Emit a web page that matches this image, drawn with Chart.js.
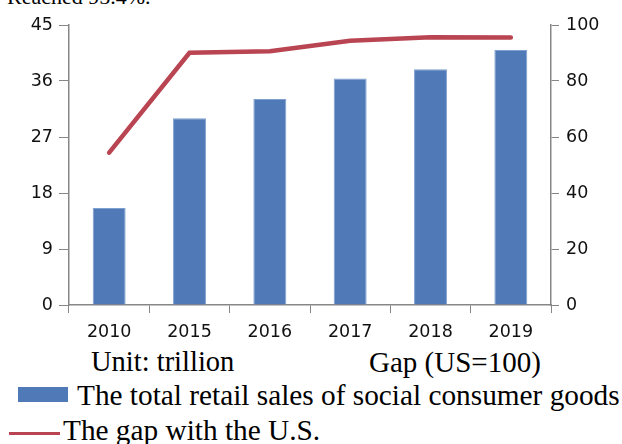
<!DOCTYPE html>
<html>
<head>
<meta charset="utf-8">
<script src="https://cdn.jsdelivr.net/npm/chart.js@4/dist/chart.umd.min.js"></script>
<style>
  html, body { margin: 0; padding: 0; background: #fff; }
  body { width: 622px; height: 444px; position: relative; overflow: hidden; font-family: "Liberation Serif", "Times New Roman", serif; color: #000; }
  #wrap { position: absolute; left: 0; top: 0; width: 622px; height: 345px; }
  .txt { position: absolute; white-space: nowrap; line-height: 1; font-size: 29.3px; }
  .box { position: absolute; }
</style>
</head>
<body>
<div class="txt" id="topnote" style="left:7px; top:-14px; font-size:22px;"></div>
<div id="wrap"><canvas id="chart"></canvas></div>
<div class="txt" id="leftTitle" style="left:91px; top:348px; font-size:28.5px;"></div>
<div class="txt" id="rightTitle" style="left:369px; top:348px; font-size:29px;"></div>
<div class="box" id="barKey" style="left:18px; top:387px; width:50px; height:15px;"></div>
<div class="txt" id="barLabel" style="left:77px; top:381px;"></div>
<div class="box" id="lineKey" style="left:9px; top:432px; width:51px; height:3px;"></div>
<div class="txt" id="lineLabel" style="left:63px; top:416px;"></div>
<script>
const years = ["2010", "2015", "2016", "2017", "2018", "2019"];
const retailSales = [15.6, 30.0, 33.1, 36.4, 37.9, 41.0];
const usGap = [54.4, 90.1, 90.6, 94.4, 95.6, 95.5];
const leftTicks = [0, 9, 18, 27, 36, 45];
const rightTicks = [0, 20, 40, 60, 80, 100];

const barLabel = "The total retail sales of social consumer goods";
const lineLabel = "The gap with the U.S.";
const barColor = "#4f7ab7";
const lineColor = "#b94452";
const axisGray = "#878787";

document.getElementById("topnote").textContent = "Reached 95.4%.";
document.getElementById("leftTitle").textContent = "Unit: trillion";
document.getElementById("rightTitle").textContent = "Gap (US=100)";
document.getElementById("barLabel").textContent = barLabel;
document.getElementById("lineLabel").textContent = lineLabel;
document.getElementById("barKey").style.background = barColor;
document.getElementById("lineKey").style.background = lineColor;

const tickFont = { family: "DejaVu Sans", size: 17.5 };
const tickColor = "#111";

const ctx = document.getElementById("chart").getContext("2d");

new Chart(ctx, {
  type: "bar",
  data: {
    labels: years,
    datasets: [
      {
        type: "line",
        label: lineLabel,
        data: usGap,
        yAxisID: "y1",
        borderColor: lineColor,
        borderWidth: 4.5,
        tension: 0,
        pointRadius: 0,
        borderCapStyle: "round",
        order: 0
      },
      {
        type: "bar",
        label: barLabel,
        data: retailSales,
        yAxisID: "y",
        backgroundColor: barColor,
        borderColor: "#7f9fcf",
        borderWidth: 1,
        barPercentage: 0.41,
        categoryPercentage: 1,
        order: 1
      }
    ]
  },
  options: {
    responsive: true,
    maintainAspectRatio: false,
    animation: false,
    layout: { padding: { top: 25, left: 0, right: 0, bottom: 0 } },
    plugins: {
      legend: { display: false },
      tooltip: { enabled: false }
    },
    scales: {
      x: {
        grid: { drawOnChartArea: false, drawTicks: true, tickLength: 8, color: axisGray, offset: true },
        border: { color: axisGray, width: 1.5 },
        ticks: { font: tickFont, color: tickColor, padding: 9, maxRotation: 0 },
        afterFit: s => { s.height = 40; }
      },
      y: {
        position: "left",
        min: 0,
        max: 45,
        grid: { drawOnChartArea: false, drawTicks: true, tickLength: 10, color: axisGray },
        border: { color: axisGray, width: 1.5 },
        ticks: { font: tickFont, color: tickColor, padding: 6 },
        afterBuildTicks: s => { s.ticks = leftTicks.map(v => ({ value: v })); },
        afterFit: s => { s.width = 69; }
      },
      y1: {
        position: "right",
        min: 0,
        max: 100,
        grid: { drawOnChartArea: false, drawTicks: true, tickLength: 8, color: axisGray },
        border: { color: axisGray, width: 1.5 },
        ticks: { font: tickFont, color: tickColor, padding: 7 },
        afterBuildTicks: s => { s.ticks = rightTicks.map(v => ({ value: v })); },
        afterFit: s => { s.width = 71; }
      }
    }
  }
});
</script>
</body>
</html>
